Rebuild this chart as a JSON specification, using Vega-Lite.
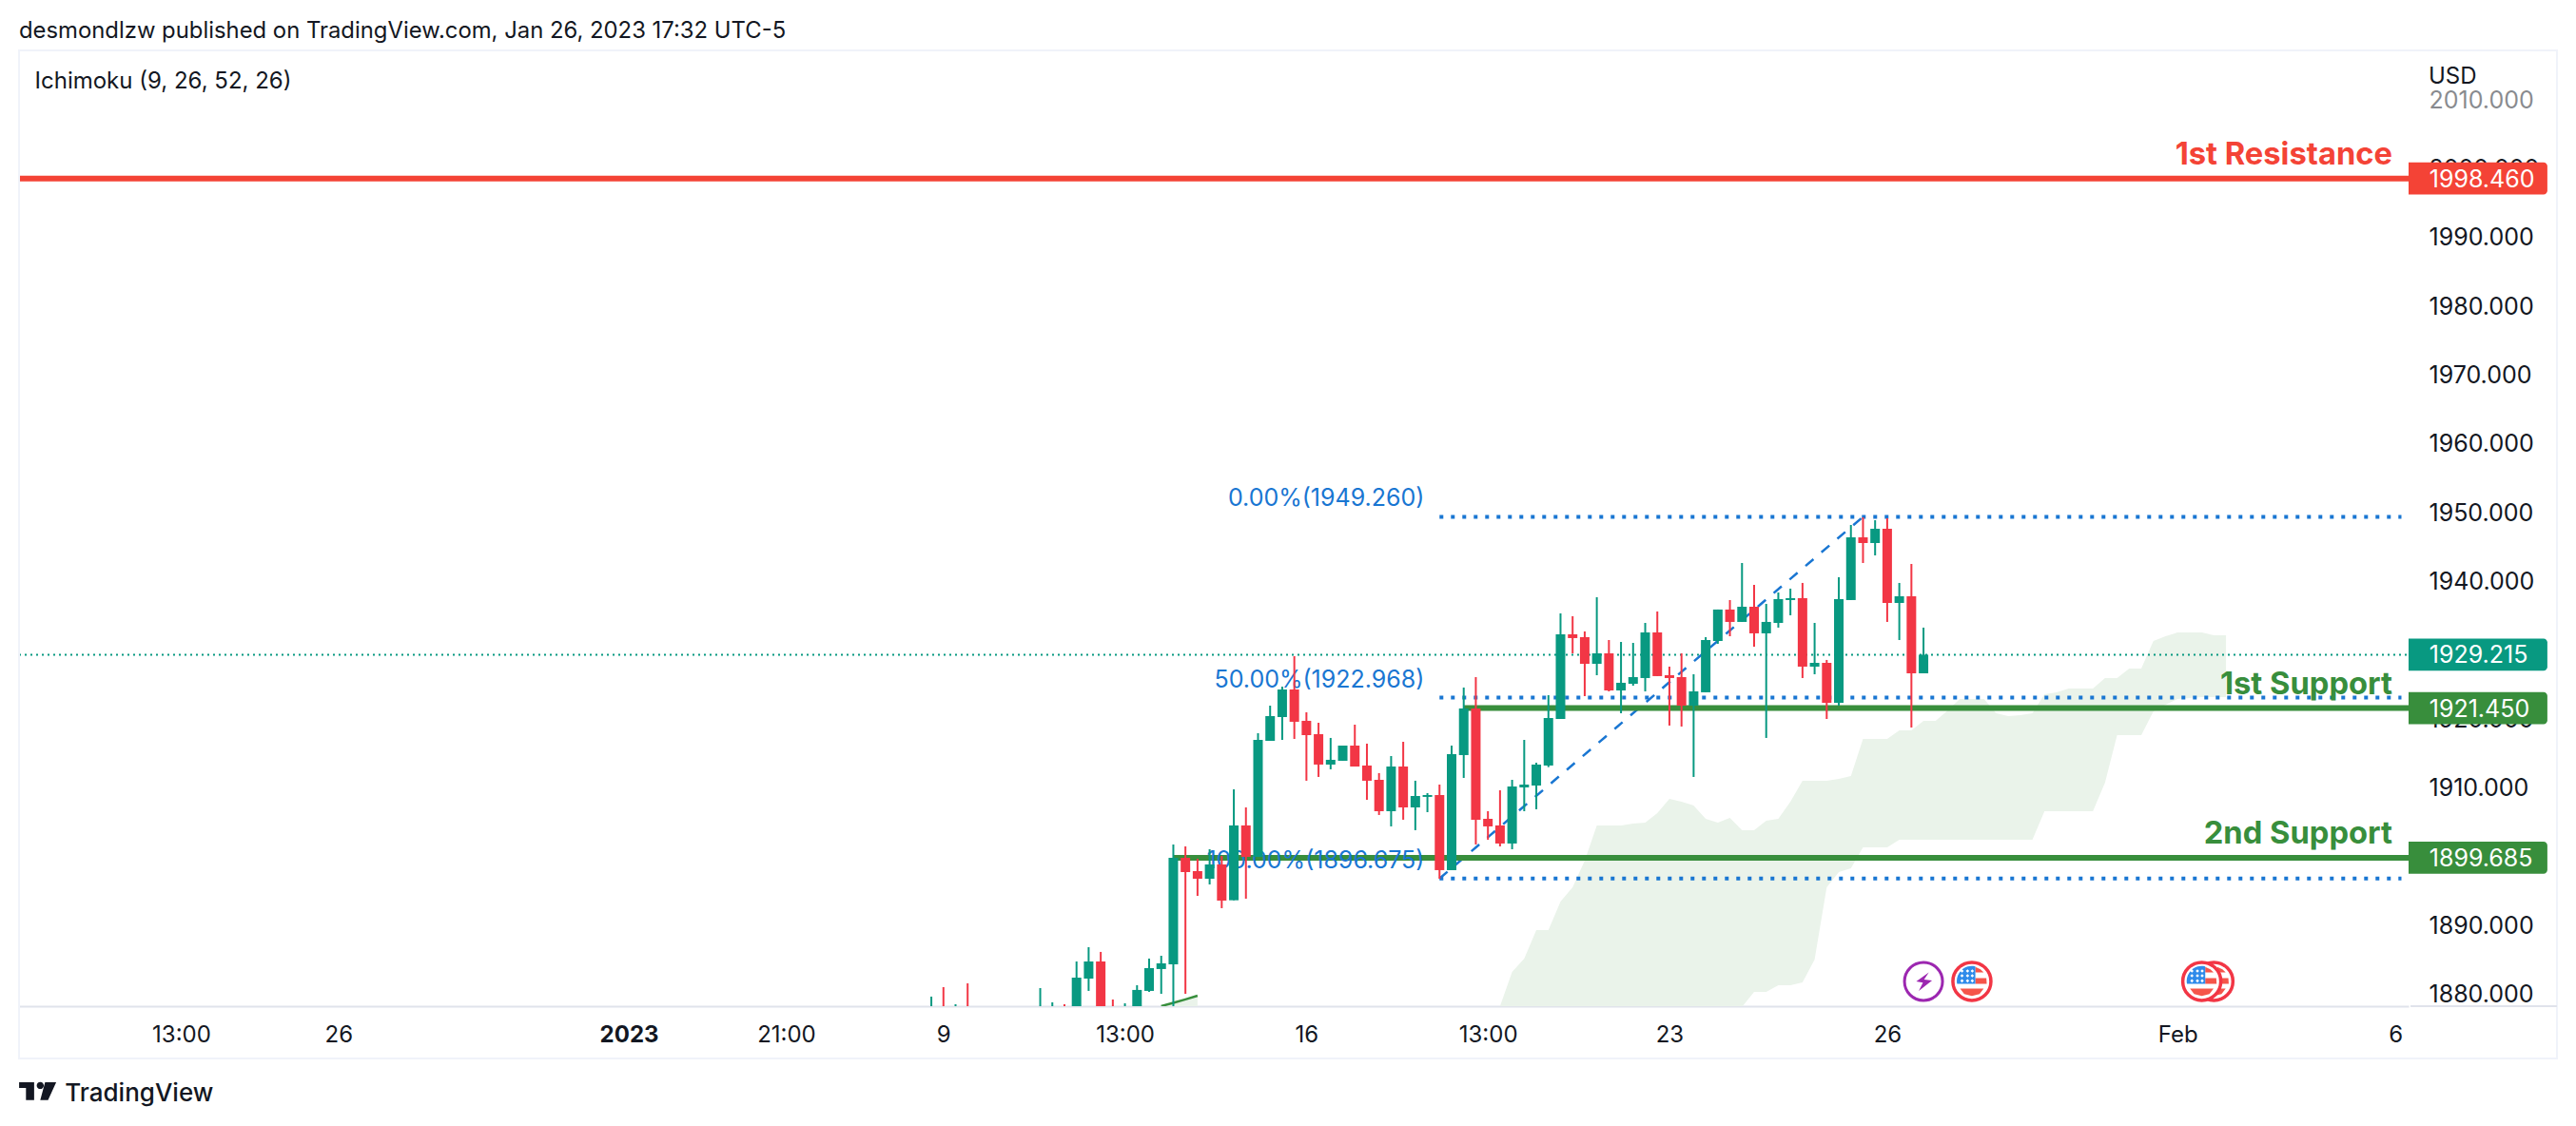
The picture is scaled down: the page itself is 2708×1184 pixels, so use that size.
{
  "$schema": "https://vega.github.io/schema/vega-lite/v6.json",
  "width": 2512,
  "height": 1005,
  "autosize": {"type": "none"},
  "padding": {"left": 20, "top": 53, "right": 176, "bottom": 126},
  "background": "white",
  "title": {
    "text": "desmondlzw published on TradingView.com, Jan 26, 2023 17:32 UTC-5",
    "anchor": "start",
    "frame": "group",
    "offset": 7,
    "font": "Inter",
    "fontSize": 23.85,
    "fontWeight": "normal",
    "color": "#131722"
  },
  "config": {
    "view": {"stroke": null},
    "text": {"font": "Inter"},
    "axis": {"labelFont": "Inter", "labelFontSize": 24, "labelColor": "#131722", "grid": false, "ticks": false, "labelOverlap": false, "labelBound": false, "labelFlush": false}
  },
  "datasets": {
    "candles": [
      {"bar": -18, "open": 1877, "high": 1879.5, "low": 1876, "close": 1877.5},
      {"bar": -17, "open": 1877.5, "high": 1880.88, "low": 1876, "close": 1877},
      {"bar": -16, "open": 1877, "high": 1878.39, "low": 1876, "close": 1877.5},
      {"bar": -15, "open": 1877.5, "high": 1881.43, "low": 1876, "close": 1877},
      {"bar": -9, "open": 1877, "high": 1880.74, "low": 1876, "close": 1877.5},
      {"bar": -8, "open": 1877, "high": 1878.67, "low": 1876, "close": 1877.5},
      {"bar": -7, "open": 1877.5, "high": 1878.39, "low": 1876, "close": 1877},
      {"bar": -6, "open": 1877, "high": 1884.61, "low": 1876.5, "close": 1882.26},
      {"bar": -5, "open": 1882.12, "high": 1886.69, "low": 1880.33, "close": 1884.61},
      {"bar": -4, "open": 1884.61, "high": 1886, "low": 1876, "close": 1877},
      {"bar": -3, "open": 1877.5, "high": 1879.08, "low": 1876, "close": 1877},
      {"bar": -2, "open": 1877, "high": 1878.53, "low": 1876, "close": 1877.5},
      {"bar": -1, "open": 1877, "high": 1881.16, "low": 1876.5, "close": 1880.47},
      {"bar": 0, "open": 1880.33, "high": 1885.03, "low": 1880.19, "close": 1883.64},
      {"bar": 1, "open": 1883.51, "high": 1885.44, "low": 1879.91, "close": 1884.34},
      {"bar": 2, "open": 1884.2, "high": 1901.62, "low": 1877, "close": 1899.685},
      {"bar": 3, "open": 1899.685, "high": 1901.34, "low": 1879.91, "close": 1897.61},
      {"bar": 4, "open": 1897.75, "high": 1899.55, "low": 1894.15, "close": 1896.64},
      {"bar": 5, "open": 1896.64, "high": 1900.93, "low": 1895.81, "close": 1898.72},
      {"bar": 6, "open": 1898.72, "high": 1899.96, "low": 1892.36, "close": 1893.46},
      {"bar": 7, "open": 1893.51, "high": 1909.64, "low": 1893.51, "close": 1904.39},
      {"bar": 8, "open": 1904.39, "high": 1907.01, "low": 1893.74, "close": 1899.82},
      {"bar": 9, "open": 1899.82, "high": 1917.8, "low": 1899.82, "close": 1916.83},
      {"bar": 10, "open": 1916.69, "high": 1921.81, "low": 1916.69, "close": 1920.29},
      {"bar": 11, "open": 1920.15, "high": 1924.57, "low": 1916.83, "close": 1924.16},
      {"bar": 12, "open": 1924.16, "high": 1929, "low": 1916.97, "close": 1919.46},
      {"bar": 13, "open": 1919.6, "high": 1920.84, "low": 1910.89, "close": 1917.52},
      {"bar": 14, "open": 1917.66, "high": 1919.32, "low": 1911.44, "close": 1913.24},
      {"bar": 15, "open": 1913.24, "high": 1917.11, "low": 1912.55, "close": 1913.93},
      {"bar": 16, "open": 1913.79, "high": 1916, "low": 1913.79, "close": 1916},
      {"bar": 17, "open": 1916, "high": 1919.04, "low": 1912.96, "close": 1912.96},
      {"bar": 18, "open": 1913.1, "high": 1916.28, "low": 1908.12, "close": 1910.89},
      {"bar": 19, "open": 1911.02, "high": 1912, "low": 1905.91, "close": 1906.46},
      {"bar": 20, "open": 1906.46, "high": 1914.48, "low": 1904.25, "close": 1912.96},
      {"bar": 21, "open": 1912.96, "high": 1916.55, "low": 1905.22, "close": 1907.01},
      {"bar": 22, "open": 1907.01, "high": 1910.89, "low": 1903.7, "close": 1908.67},
      {"bar": 23, "open": 1908.54, "high": 1909.09, "low": 1906.32, "close": 1908.81},
      {"bar": 24, "open": 1908.81, "high": 1910.33, "low": 1896.64, "close": 1897.89},
      {"bar": 25, "open": 1897.89, "high": 1916, "low": 1897.89, "close": 1914.76},
      {"bar": 26, "open": 1914.62, "high": 1924.44, "low": 1911.3, "close": 1921.4},
      {"bar": 27, "open": 1921.4, "high": 1925.96, "low": 1901.62, "close": 1905.22},
      {"bar": 28, "open": 1905.35, "high": 1906.46, "low": 1902.31, "close": 1904.25},
      {"bar": 29, "open": 1904.39, "high": 1909.5, "low": 1901.34, "close": 1901.76},
      {"bar": 30, "open": 1901.76, "high": 1911.02, "low": 1900.93, "close": 1910.05},
      {"bar": 31, "open": 1909.92, "high": 1916.83, "low": 1906.46, "close": 1910.33},
      {"bar": 32, "open": 1910.19, "high": 1913.51, "low": 1906.74, "close": 1913.24},
      {"bar": 33, "open": 1913.1, "high": 1923.33, "low": 1912.87, "close": 1920.01},
      {"bar": 34, "open": 1919.87, "high": 1935.22, "low": 1919.87, "close": 1932.18},
      {"bar": 35, "open": 1932.18, "high": 1934.81, "low": 1929.41, "close": 1931.63},
      {"bar": 36, "open": 1931.77, "high": 1932.6, "low": 1923.19, "close": 1927.89},
      {"bar": 37, "open": 1927.89, "high": 1937.57, "low": 1926.23, "close": 1929.41},
      {"bar": 38, "open": 1929.41, "high": 1931.35, "low": 1923.88, "close": 1924.02},
      {"bar": 39, "open": 1924.02, "high": 1931.07, "low": 1920.7, "close": 1925.13},
      {"bar": 40, "open": 1924.99, "high": 1930.93, "low": 1924.71, "close": 1925.96},
      {"bar": 41, "open": 1925.82, "high": 1933.84, "low": 1923.88, "close": 1932.45},
      {"bar": 42, "open": 1932.45, "high": 1935.5, "low": 1926.1, "close": 1926.1},
      {"bar": 43, "open": 1926.23, "high": 1927.48, "low": 1918.91, "close": 1925.82},
      {"bar": 44, "open": 1925.96, "high": 1929.41, "low": 1918.77, "close": 1921.81},
      {"bar": 45, "open": 1921.81, "high": 1926.37, "low": 1911.44, "close": 1923.88},
      {"bar": 46, "open": 1923.75, "high": 1931.77, "low": 1923.75, "close": 1931.35},
      {"bar": 47, "open": 1931.21, "high": 1935.78, "low": 1930.8, "close": 1935.78},
      {"bar": 48, "open": 1935.78, "high": 1937.16, "low": 1931.9, "close": 1933.98},
      {"bar": 49, "open": 1933.98, "high": 1942.55, "low": 1933.98, "close": 1936.19},
      {"bar": 50, "open": 1936.19, "high": 1939.37, "low": 1930.38, "close": 1932.32},
      {"bar": 51, "open": 1932.32, "high": 1936.6, "low": 1917.11, "close": 1933.98},
      {"bar": 52, "open": 1933.84, "high": 1938.26, "low": 1933.15, "close": 1937.3},
      {"bar": 53, "open": 1937.16, "high": 1938.82, "low": 1934.94, "close": 1937.44},
      {"bar": 54, "open": 1937.44, "high": 1939.65, "low": 1925.82, "close": 1927.48},
      {"bar": 55, "open": 1927.48, "high": 1933.84, "low": 1926.37, "close": 1928.03},
      {"bar": 56, "open": 1928.03, "high": 1928.45, "low": 1919.87, "close": 1922.22},
      {"bar": 57, "open": 1922.22, "high": 1940.48, "low": 1921.81, "close": 1937.3},
      {"bar": 58, "open": 1937.16, "high": 1948.08, "low": 1937.16, "close": 1946.28},
      {"bar": 59, "open": 1946.28, "high": 1949.19, "low": 1942.55, "close": 1945.45},
      {"bar": 60, "open": 1945.45, "high": 1948.77, "low": 1943.65, "close": 1947.53},
      {"bar": 61, "open": 1947.53, "high": 1949.05, "low": 1933.98, "close": 1936.74},
      {"bar": 62, "open": 1936.74, "high": 1939.65, "low": 1931.35, "close": 1937.71},
      {"bar": 63, "open": 1937.71, "high": 1942.41, "low": 1918.63, "close": 1926.51},
      {"bar": 64, "open": 1926.51, "high": 1933.15, "low": 1926.51, "close": 1929.215}
    ],
    "cloud": [
      {"bar": 29, "top": 1878.11, "bottom": 1878},
      {"bar": 30, "top": 1883.09, "bottom": 1878},
      {"bar": 31, "top": 1885.03, "bottom": 1878},
      {"bar": 32, "top": 1889.18, "bottom": 1878},
      {"bar": 33, "top": 1889.18, "bottom": 1878},
      {"bar": 34, "top": 1893.32, "bottom": 1878},
      {"bar": 35, "top": 1895.4, "bottom": 1878},
      {"bar": 36, "top": 1899.27, "bottom": 1878},
      {"bar": 37, "top": 1904.39, "bottom": 1878},
      {"bar": 38, "top": 1904.39, "bottom": 1878},
      {"bar": 39, "top": 1904.39, "bottom": 1878},
      {"bar": 40, "top": 1904.66, "bottom": 1878},
      {"bar": 41, "top": 1904.8, "bottom": 1878},
      {"bar": 42, "top": 1906.19, "bottom": 1878},
      {"bar": 43, "top": 1908.26, "bottom": 1878},
      {"bar": 44, "top": 1907.84, "bottom": 1878},
      {"bar": 45, "top": 1907.29, "bottom": 1878},
      {"bar": 46, "top": 1905.35, "bottom": 1878},
      {"bar": 47, "top": 1904.8, "bottom": 1878},
      {"bar": 48, "top": 1905.49, "bottom": 1878},
      {"bar": 49, "top": 1903.7, "bottom": 1878},
      {"bar": 50, "top": 1903.7, "bottom": 1880.19},
      {"bar": 51, "top": 1905.08, "bottom": 1880.19},
      {"bar": 52, "top": 1905.35, "bottom": 1881.16},
      {"bar": 53, "top": 1907.84, "bottom": 1881.16},
      {"bar": 54, "top": 1910.89, "bottom": 1881.57},
      {"bar": 55, "top": 1910.89, "bottom": 1884.89},
      {"bar": 56, "top": 1910.89, "bottom": 1895.4},
      {"bar": 57, "top": 1911.16, "bottom": 1897.61},
      {"bar": 58, "top": 1911.58, "bottom": 1898.16},
      {"bar": 59, "top": 1916.97, "bottom": 1901.21},
      {"bar": 60, "top": 1916.97, "bottom": 1901.21},
      {"bar": 61, "top": 1916.97, "bottom": 1901.21},
      {"bar": 62, "top": 1918.21, "bottom": 1902.31},
      {"bar": 63, "top": 1918.21, "bottom": 1902.31},
      {"bar": 64, "top": 1919.6, "bottom": 1902.31},
      {"bar": 65, "top": 1919.6, "bottom": 1902.31},
      {"bar": 66, "top": 1921.12, "bottom": 1902.31},
      {"bar": 67, "top": 1922.78, "bottom": 1902.31},
      {"bar": 68, "top": 1922.78, "bottom": 1902.31},
      {"bar": 69, "top": 1922.78, "bottom": 1902.31},
      {"bar": 70, "top": 1920.7, "bottom": 1902.31},
      {"bar": 71, "top": 1920.29, "bottom": 1902.31},
      {"bar": 72, "top": 1920.43, "bottom": 1902.31},
      {"bar": 73, "top": 1920.7, "bottom": 1902.31},
      {"bar": 74, "top": 1923.47, "bottom": 1906.46},
      {"bar": 75, "top": 1923.75, "bottom": 1906.46},
      {"bar": 76, "top": 1924.3, "bottom": 1906.46},
      {"bar": 77, "top": 1924.3, "bottom": 1906.46},
      {"bar": 78, "top": 1924.3, "bottom": 1906.46},
      {"bar": 79, "top": 1925.82, "bottom": 1910.61},
      {"bar": 80, "top": 1925.82, "bottom": 1917.52},
      {"bar": 81, "top": 1927.2, "bottom": 1917.52},
      {"bar": 82, "top": 1927.2, "bottom": 1917.52},
      {"bar": 83, "top": 1931.21, "bottom": 1920.98},
      {"bar": 84, "top": 1931.9, "bottom": 1921.95},
      {"bar": 85, "top": 1932.45, "bottom": 1922.78},
      {"bar": 86, "top": 1932.45, "bottom": 1922.92},
      {"bar": 87, "top": 1932.45, "bottom": 1923.05},
      {"bar": 88, "top": 1932.04, "bottom": 1923.05},
      {"bar": 89, "top": 1932.04, "bottom": 1923.05}
    ],
    "cloudEarly": [
      {"bar": 1, "top": 1878.11, "bottom": 1878},
      {"bar": 2, "top": 1878.6, "bottom": 1878},
      {"bar": 3, "top": 1879.1, "bottom": 1878},
      {"bar": 4, "top": 1879.63, "bottom": 1878}
    ],
    "levels": [
      {"kind": "resistance", "price": 1998.46, "from": -93.4, "to": 104.09, "note": "1st Resistance", "noteBar": 102.75, "tag": "1998.460", "tagFrom": 104.09, "tagTo": 115.56, "tagTextBar": 105.8, "tagTop": 2000.79, "tagBottom": 1996.13},
      {"kind": "support", "price": 1921.45, "from": 26, "to": 104.09, "note": "1st Support", "noteBar": 102.75, "tag": "1921.450", "tagFrom": 104.09, "tagTo": 115.56, "tagTextBar": 105.8, "tagTop": 1923.78, "tagBottom": 1919.12},
      {"kind": "support", "price": 1899.685, "from": 2, "to": 104.09, "note": "2nd Support", "noteBar": 102.75, "tag": "1899.685", "tagFrom": 104.09, "tagTo": 115.56, "tagTextBar": 105.8, "tagTop": 1902.015, "tagBottom": 1897.355}
    ],
    "last": [
      {"kind": "last", "price": 1929.215, "from": -93.4, "to": 104.09, "tag": "1929.215", "tagFrom": 104.09, "tagTo": 115.56, "tagTextBar": 105.8, "tagTop": 1931.545, "tagBottom": 1926.885}
    ],
    "fib": [
      {"price": 1949.26, "from": 24, "to": 103.5, "label": "0.00%(1949.260)", "labelBar": 22.75},
      {"price": 1922.968, "from": 24, "to": 103.5, "label": "50.00%(1922.968)", "labelBar": 22.75},
      {"price": 1896.675, "from": 24, "to": 103.5, "label": "100.00%(1896.675)", "labelBar": 22.75}
    ],
    "trend": [
      {"bar": 24, "price": 1896.675},
      {"bar": 59, "price": 1949.26}
    ],
    "frame": [
      {"left": -93.4, "right": 116.35, "top": 2017.08, "bottom": 1870.51}
    ],
    "scaleEdge": [
      {"from": 104.25, "to": 116.35, "price": 1878.11}
    ],
    "captions": [
      {"bar": -92.1, "price": 2012.66, "label": "Ichimoku (9, 26, 52, 26)"},
      {"bar": 105.74, "price": 2013.35, "label": "USD"}
    ],
    "brand": [
      {"logoBar": -91.86, "logoPrice": 1865.74, "bar": -89.6, "price": 1865.4, "label": "TradingView"}
    ],
    "flagBack": [{"bar": 88, "price": 1881.71}],
    "flagFront": [{"bar": 68, "price": 1881.71}, {"bar": 87, "price": 1881.71}],
    "bolt": [{"bar": 64, "price": 1881.71}]
  },
  "encoding": {
    "x": {
      "field": "bar",
      "type": "quantitative",
      "title": null,
      "scale": {"domain": [-93.4, 104.09], "nice": false, "zero": false, "padding": 0},
      "axis": {
        "orient": "bottom",
        "values": [-80, -67, -43, -30, -17, -2, 13, 28, 43, 61, 85, 103],
        "labelExpr": "({'-80':'13:00','-67':'26','-43':'2023','-30':'21:00','-17':'9','-2':'13:00','13':'16','28':'13:00','43':'23','61':'26','85':'Feb','103':'6'})[datum.value]",
        "labelFontWeight": {"condition": {"test": "datum.value == -43", "value": "bold"}, "value": "normal"},
        "labelPadding": 18,
        "domainColor": "#E0E3EB",
        "domainWidth": 2
      }
    },
    "y": {
      "field": "price",
      "type": "quantitative",
      "title": null,
      "scale": {"domain": [1878.11, 2017.08], "nice": false, "zero": false},
      "axis": {
        "orient": "right",
        "values": [1880, 1890, 1900, 1910, 1920, 1930, 1940, 1950, 1960, 1970, 1980, 1990, 2000, 2010],
        "format": ".3f",
        "labelPadding": 21,
        "labelFontSize": 25,
        "labelAlign": "left",
        "labelOffset": 1,
        "domain": false,
        "labelOpacity": {"condition": {"test": "datum.value == 2010", "value": 0.5}, "value": 1}
      }
    }
  },
  "layer": [
    {
      "data": {"name": "cloud"},
      "mark": {"type": "area", "color": "#EAF3EA", "clip": true},
      "encoding": {"y": {"field": "top", "type": "quantitative", "title": null}, "y2": {"field": "bottom"}}
    },
    {
      "data": {"name": "cloudEarly"},
      "mark": {"type": "area", "color": "#EAF3EA", "clip": true},
      "encoding": {"y": {"field": "top", "type": "quantitative", "title": null}, "y2": {"field": "bottom"}}
    },
    {
      "data": {"name": "cloudEarly"},
      "mark": {"type": "line", "color": "#388E3C", "strokeWidth": 2.5, "clip": true},
      "encoding": {"y": {"field": "top", "type": "quantitative", "title": null}}
    },
    {
      "data": {"name": "last"},
      "mark": {"type": "rule", "color": "#089981", "strokeWidth": 2, "strokeDash": [2, 4]},
      "encoding": {"x": {"field": "from", "type": "quantitative", "title": null}, "x2": {"field": "to"}}
    },
    {
      "data": {"name": "fib"},
      "mark": {"type": "rule", "color": "#1976D2", "strokeWidth": 4, "strokeDash": [4, 8]},
      "encoding": {"x": {"field": "from", "type": "quantitative", "title": null}, "x2": {"field": "to"}}
    },
    {
      "data": {"name": "trend"},
      "mark": {"type": "line", "color": "#1976D2", "strokeWidth": 2.5, "strokeDash": [11, 11]}
    },
    {
      "data": {"name": "levels"},
      "mark": {"type": "rule", "strokeWidth": 6},
      "encoding": {
        "x": {"field": "from", "type": "quantitative", "title": null},
        "x2": {"field": "to"},
        "color": {"field": "kind", "type": "nominal", "legend": null, "scale": {"domain": ["resistance", "support", "last"], "range": ["#F44336", "#388E3C", "#089981"]}}
      }
    },
    {
      "data": {"name": "fib"},
      "mark": {"type": "text", "color": "#1976D2", "fontSize": 25, "align": "right", "baseline": "alphabetic", "dy": -11},
      "encoding": {"x": {"field": "labelBar", "type": "quantitative", "title": null}, "text": {"field": "label"}}
    },
    {
      "data": {"name": "candles"},
      "mark": {"type": "rule", "strokeWidth": 2, "clip": true},
      "encoding": {
        "y": {"field": "high", "type": "quantitative", "title": null},
        "y2": {"field": "low"},
        "color": {"condition": {"test": "datum.close >= datum.open", "value": "#089981"}, "value": "#F23645"}
      }
    },
    {
      "data": {"name": "candles"},
      "mark": {"type": "bar", "size": 10, "orient": "vertical", "clip": true},
      "encoding": {
        "y": {"field": "open", "type": "quantitative", "title": null},
        "y2": {"field": "close"},
        "color": {"condition": {"test": "datum.close >= datum.open", "value": "#089981"}, "value": "#F23645"}
      }
    },
    {
      "data": {"name": "levels"},
      "mark": {"type": "text", "fontSize": 32.7, "fontWeight": "bold", "align": "right", "baseline": "alphabetic", "dy": -15},
      "encoding": {
        "x": {"field": "noteBar", "type": "quantitative", "title": null},
        "text": {"field": "note"},
        "color": {"field": "kind", "type": "nominal", "legend": null}
      }
    },
    {
      "data": {"name": "levels"},
      "mark": {"type": "rect", "cornerRadiusTopRight": 4, "cornerRadiusBottomRight": 4},
      "encoding": {
        "x": {"field": "tagFrom", "type": "quantitative", "title": null},
        "x2": {"field": "tagTo"},
        "y": {"field": "tagTop", "type": "quantitative", "title": null},
        "y2": {"field": "tagBottom"},
        "color": {"field": "kind", "type": "nominal", "legend": null}
      }
    },
    {
      "data": {"name": "last"},
      "mark": {"type": "rect", "cornerRadiusTopRight": 4, "cornerRadiusBottomRight": 4},
      "encoding": {
        "x": {"field": "tagFrom", "type": "quantitative", "title": null},
        "x2": {"field": "tagTo"},
        "y": {"field": "tagTop", "type": "quantitative", "title": null},
        "y2": {"field": "tagBottom"},
        "color": {"field": "kind", "type": "nominal", "legend": null}
      }
    },
    {
      "data": {"name": "levels"},
      "mark": {"type": "text", "color": "white", "fontSize": 25, "align": "left", "baseline": "middle", "dy": 1},
      "encoding": {"x": {"field": "tagTextBar", "type": "quantitative", "title": null}, "text": {"field": "tag"}}
    },
    {
      "data": {"name": "last"},
      "mark": {"type": "text", "color": "white", "fontSize": 25, "align": "left", "baseline": "middle", "dy": 1},
      "encoding": {"x": {"field": "tagTextBar", "type": "quantitative", "title": null}, "text": {"field": "tag"}}
    },
    {
      "data": {"name": "bolt"},
      "mark": {"type": "point", "shape": "circle", "size": 1600, "filled": false, "fill": "white", "fillOpacity": 1, "stroke": "#9C27B0", "strokeWidth": 3, "opacity": 1}
    },
    {
      "data": {"name": "bolt"},
      "mark": {"type": "point", "shape": "M-.38 0L.28 -.47L.03 -.1L.45 -.05L-.25 .5L-.03 .07Z", "size": 1600, "filled": true, "color": "#9C27B0", "opacity": 1}
    },
    {
      "data": {"name": "flagBack"},
      "mark": {"type": "point", "shape": "circle", "size": 1600, "filled": false, "fill": "white", "fillOpacity": 1, "stroke": "#F23645", "strokeWidth": 3.5, "opacity": 1}
    },
    {
      "data": {"name": "flagBack"},
      "mark": {"type": "point", "shape": "M.18 -.76L.45 -.63L.62 -.47H.18ZM.18 -.17H.76L.78 .13H.18ZM-.62 .38H.62L.4 .66L0 .76L-.4 .66Z", "size": 1600, "filled": true, "color": "#F5554A", "opacity": 1}
    },
    {
      "data": {"name": "flagFront"},
      "mark": {"type": "point", "shape": "circle", "size": 1600, "filled": false, "fill": "white", "fillOpacity": 1, "stroke": "#F23645", "strokeWidth": 3.5, "opacity": 1}
    },
    {
      "data": {"name": "flagFront"},
      "mark": {"type": "point", "shape": "M.18 -.76L.45 -.63L.62 -.47H.18ZM.18 -.17H.76L.78 .13H.18ZM-.62 .38H.62L.4 .66L0 .76L-.4 .66Z", "size": 1600, "filled": true, "color": "#F5554A", "opacity": 1}
    },
    {
      "data": {"name": "flagFront"},
      "mark": {"type": "point", "shape": "M-.78 .13H.18V-.78A.78 .78 0 0 0 -.78 .13Z", "size": 1600, "filled": true, "color": "#2F8BEA", "opacity": 1}
    },
    {
      "data": {"name": "flagFront"},
      "mark": {"type": "point", "shape": "M-.61 -.55L-.52 -.64L-.43 -.55L-.52 -.46ZM-.32 -.55L-.23 -.64L-.14 -.55L-.23 -.46ZM-.07 -.55L.02 -.64L.11 -.55L.02 -.46ZM-.61 -.3L-.52 -.39L-.43 -.3L-.52 -.21ZM-.32 -.3L-.23 -.39L-.14 -.3L-.23 -.21ZM-.07 -.3L.02 -.39L.11 -.3L.02 -.21ZM-.61 -.03L-.52 -.12L-.43 -.03L-.52 .06ZM-.32 -.03L-.23 -.12L-.14 -.03L-.23 .06ZM-.07 -.03L.02 -.12L.11 -.03L.02 .06Z", "size": 1600, "filled": true, "color": "white", "opacity": 1}
    },
    {
      "data": {"name": "frame"},
      "mark": {"type": "rect", "fill": "transparent", "stroke": "#F0F3FA", "strokeWidth": 2},
      "encoding": {
        "x": {"field": "left", "type": "quantitative", "title": null},
        "x2": {"field": "right"},
        "y": {"field": "top", "type": "quantitative", "title": null},
        "y2": {"field": "bottom"}
      }
    },
    {
      "data": {"name": "scaleEdge"},
      "mark": {"type": "rule", "color": "#E0E3EB", "strokeWidth": 2},
      "encoding": {"x": {"field": "from", "type": "quantitative", "title": null}, "x2": {"field": "to"}}
    },
    {
      "data": {"name": "captions"},
      "mark": {"type": "text", "color": "#131722", "fontSize": 24, "align": "left", "baseline": "middle", "dy": 1.5},
      "encoding": {"text": {"field": "label"}}
    },
    {
      "data": {"name": "brand"},
      "mark": {"type": "text", "color": "#131722", "fontSize": 26, "fontWeight": 500, "align": "left", "baseline": "middle"},
      "encoding": {"text": {"field": "label"}}
    },
    {
      "data": {"name": "brand"},
      "mark": {"type": "point", "shape": "M-1 -.48H-.19V.48H-.63V-.18H-1ZM-.05 -.31A.19 .19 0 1 0 .33 -.31A.19 .19 0 1 0 -.05 -.31ZM.4 -.48H1L.56 .48H.14Z", "size": 1521, "filled": true, "color": "#131722", "opacity": 1},
      "encoding": {
        "x": {"field": "logoBar", "type": "quantitative", "title": null},
        "y": {"field": "logoPrice", "type": "quantitative", "title": null}
      }
    }
  ]
}
